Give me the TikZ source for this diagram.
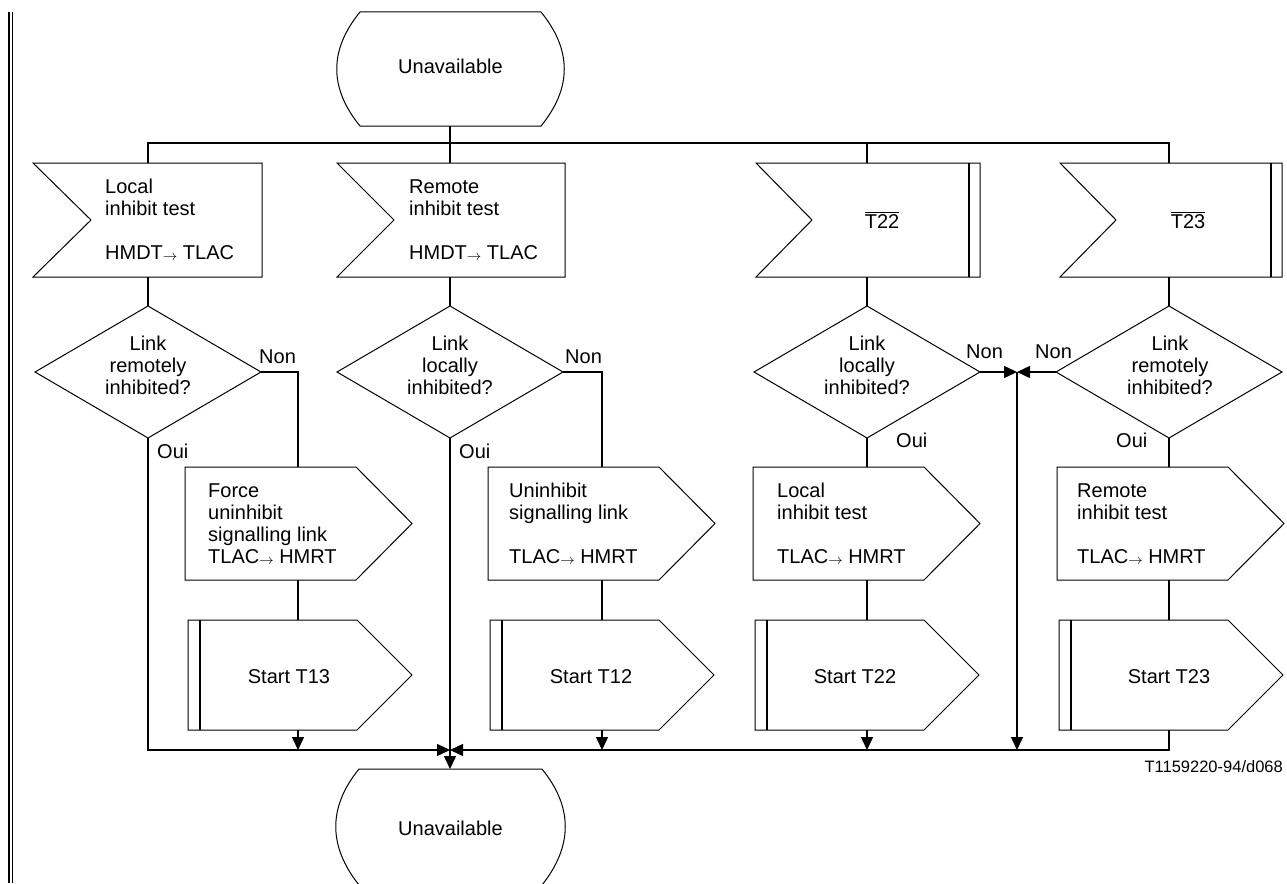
\documentclass[tikz,border=0pt]{standalone}
\usepackage{fontspec}
\setmainfont{Liberation Sans}
\usetikzlibrary{arrows.meta}
\newcommand\ml[2][l]{\begin{tabular}[t]{@{}#1@{}}#2\end{tabular}}
\newcommand\smallarr{\raisebox{-1.5pt}{$\scriptstyle\rightarrow$}}
\begin{document}
\begin{tikzpicture}[x=1pt,y=-1pt,
  shp/.style={line width=1pt, line join=miter},
  conn/.style={line width=1.5pt},
  flow/.style={conn,-{Triangle[length=13pt,width=12pt]}},
  txt/.style={inner sep=0pt, font=\fontsize{20}{22}\selectfont},
  lbl/.style={inner sep=0pt, font=\fontsize{20}{22}\selectfont, anchor=base west},
  ]
\useasboundingbox (0,0) rectangle (1287,883);
\clip (0,0) rectangle (1287,883);
% left double border
\draw[line width=2pt] (9,12) -- (9,883);
\draw[line width=1.7pt] (12.5,12) -- (12.5,883);

% states
\draw[shp] (360,12) -- (541,12) .. controls (572,50) and (572,88) .. (541,126) -- (360,126) .. controls (329,88) and (329,50) .. (360,12) -- cycle;
\node[txt,anchor=base] (s1) at (450.5,74) {Unavailable};
\coordinate (s1b) at (450,126);
\draw[shp] (359,769) -- (542,769) .. controls (573,807) and (573,846) .. (542,885) -- (359,885) .. controls (328,846) and (328,807) .. (359,769) -- cycle;
\node[txt,anchor=base] (s2) at (450.5,835) {Unavailable};
\coordinate (s2t) at (450,769);

% input signals
\draw[shp] (33,163) -- (262,163) -- (262,277) -- (33,277) -- (91,220) -- cycle;
\draw[shp] (337,163) -- (565,163) -- (565,277) -- (337,277) -- (394,220) -- cycle;
\draw[shp] (756,163) -- (980,163) -- (980,277) -- (756,277) -- (812,220) -- cycle;
\draw[line width=1.8pt] (969,163) -- (969,277);
\draw[shp] (1060,163) -- (1282,163) -- (1282,277) -- (1060,277) -- (1116,220) -- cycle;
\draw[line width=1.8pt] (1271,163) -- (1271,277);
\node[lbl] (i1) at (105,193) {\ml{Local\\inhibit test\\ \\HMDT\smallarr\ TLAC}};
\node[lbl] (i2) at (409,193) {\ml{Remote\\inhibit test\\ \\HMDT\smallarr\ TLAC}};
\node[txt,anchor=base] (i3) at (882,228) {$\overline{\hbox{T22}}$};
\node[txt,anchor=base] (i4) at (1188,228) {$\overline{\hbox{T23}}$};
\foreach \n/\c in {1/148,2/450,3/867,4/1169}{
  \coordinate (i\n t) at (\c,163);
  \coordinate (i\n b) at (\c,277);
  \coordinate (j\n) at (\c,143);
}

% decisions
\foreach \n/\c in {1/148,2/450,3/867,4/1169}{
  \draw[shp] (\c-113,372) -- (\c,306) -- (\c+113,372) -- (\c,438) -- cycle;
  \coordinate (d\n t) at (\c,306);
  \coordinate (d\n b) at (\c,438);
  \coordinate (d\n l) at (\c-113,372);
  \coordinate (d\n r) at (\c+113,372);
}
\node[txt,anchor=base] (q1) at (148,350) {\ml[c]{Link\\remotely\\inhibited?}};
\node[txt,anchor=base] (q2) at (450,350) {\ml[c]{Link\\locally\\inhibited?}};
\node[txt,anchor=base] (q3) at (867,350) {\ml[c]{Link\\locally\\inhibited?}};
\node[txt,anchor=base] (q4) at (1170,350) {\ml[c]{Link\\remotely\\inhibited?}};
\node[lbl] (n1) at (259,363) {Non};
\node[lbl] (n2) at (565,363) {Non};
\node[lbl] (n3) at (966,358) {Non};
\node[lbl] (n4) at (1035,358) {Non};
\node[lbl] (y1) at (157,458) {Oui};
\node[lbl] (y2) at (459,458) {Oui};
\node[lbl] (y3) at (896,447) {Oui};
\node[lbl] (y4) at (1116,447) {Oui};

% outputs
\foreach \n/\L/\a in {1/185/298,2/488/602,3/753/867,4/1057/1169}{
  \draw[shp] (\L,467) -- (\L+171,467) -- (\L+227,523.5) -- (\L+171,580) -- (\L,580) -- cycle;
  \coordinate (o\n t) at (\a,467);
  \coordinate (o\n b) at (\a,580);
}
\node[lbl] (o1) at (208,497) {\ml{Force\\uninhibit\\signalling link\\TLAC\smallarr\ HMRT}};
\node[lbl] (o2) at (509,497) {\ml{Uninhibit\\signalling link\\ \\TLAC\smallarr\ HMRT}};
\node[lbl] (o3) at (777,497) {\ml{Local\\inhibit test\\ \\TLAC\smallarr\ HMRT}};
\node[lbl] (o4) at (1077,497) {\ml{Remote\\inhibit test\\ \\TLAC\smallarr\ HMRT}};

% timers
\foreach \n/\L/\a in {1/188/298,2/490/602,3/755/867,4/1059/1169}{
  \draw[shp] (\L,620) -- (\L+169,620) -- (\L+224,675) -- (\L+169,730) -- (\L,730) -- cycle;
  \draw[line width=2pt] (\L+11.5,620) -- (\L+11.5,730);
  \coordinate (t\n t) at (\a,620);
  \coordinate (t\n b) at (\a,730);
  \coordinate (e\n) at (\a,750);
}
\node[txt,anchor=base] (k1) at (289,683) {Start T13};
\node[txt,anchor=base] (k2) at (591,683) {Start T12};
\node[txt,anchor=base] (k3) at (855,683) {Start T22};
\node[txt,anchor=base] (k4) at (1169,683) {Start T23};

% connectors
\coordinate (m) at (450,750);
\coordinate (c1) at (148,750);
\coordinate (c4) at (1169,750);
\coordinate (nj1) at (298,372);
\coordinate (nj2) at (602,372);
\coordinate (v) at (1017,372);
\coordinate (vb) at (1017,750);
\draw[conn] (s1b) -- (i2t);
\draw[conn] (i1t) -- (j1) -- (j4) -- (i4t);
\draw[conn] (j3) -- (i3t);
\foreach \n in {1,2,3,4}{
  \draw[conn] (i\n b) -- (d\n t);
  \draw[conn] (o\n b) -- (t\n t);
}
\draw[conn] (d1r) -- (nj1) -- (o1t);
\draw[conn] (d2r) -- (nj2) -- (o2t);
\draw[conn] (d3b) -- (o3t);
\draw[conn] (d4b) -- (o4t);
\draw[flow] (t1b) -- (e1);
\draw[flow] (t2b) -- (e2);
\draw[flow] (t3b) -- (e3);
\draw[flow] (d1b) -- (c1) -- (m);
\draw[flow] (t4b) -- (c4) -- (m);
\draw[flow] (d2b) -- (s2t);
\draw[flow] (d3r) -- (v);
\draw[flow] (d4l) -- (v);
\draw[flow] (v) -- (vb);

\node[inner sep=0pt, font=\fontsize{16.5}{18}\selectfont, anchor=base east] (code) at (1283,772) {T1159220-94/d068};
\end{tikzpicture}
\end{document}
